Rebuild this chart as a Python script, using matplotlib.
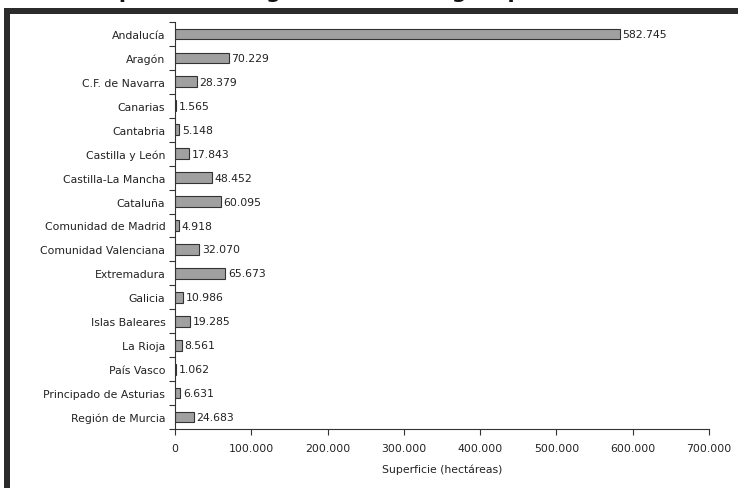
import matplotlib
matplotlib.use("Agg")
import matplotlib.pyplot as plt
import matplotlib.patches as mpatches
import numpy as np

# Superficie por comunidad autónoma (hectáreas)
comunidades = [
    "Andalucía", "Aragón", "C.F. de Navarra", "Canarias", "Cantabria",
    "Castilla y León", "Castilla-La Mancha", "Cataluña", "Comunidad de Madrid",
    "Comunidad Valenciana", "Extremadura", "Galicia", "Islas Baleares",
    "La Rioja", "País Vasco", "Principado de Asturias", "Región de Murcia",
]
superficie = [
    582745, 70229, 28379, 1565, 5148, 17843, 48452, 60095, 4918,
    32070, 65673, 10986, 19285, 8561, 1062, 6631, 24683,
]
xticks = [0, 100000, 200000, 300000, 400000, 500000, 600000, 700000]
titulo = "Superficie de agricultura ecológica por comunidades autónomas (hectáreas)"


def miles(v):
    return f"{v:,}".replace(",", ".")


plt.rcParams["font.family"] = ["DejaVu Sans"]

W, H = 738, 489
fig = plt.figure(figsize=(W / 100, H / 100), dpi=100)
fig.patch.set_facecolor("white")

# marco negro (parte superior e izquierda de la captura)
fig.add_artist(mpatches.Rectangle((4 / W, 0), 6 / W, 1 - 9 / H,
                                  transform=fig.transFigure, color="#2b2b2b", lw=0))
fig.add_artist(mpatches.Rectangle((4 / W, 1 - 15 / H), 1, 6 / H,
                                  transform=fig.transFigure, color="#2b2b2b", lw=0))
# título cortado por arriba: solo asoman los trazos inferiores
fig.text(0.12, 1 + 2.5 / H, titulo, fontsize=15, fontweight="bold",
         va="baseline", ha="left", color="#111111")

ax = fig.add_axes([175 / W, 1 - 430 / H, 534 / W, 407 / H])

y = np.arange(len(comunidades))
ax.barh(y, superficie, height=0.45, color="#a0a0a0", edgecolor="#333333", linewidth=0.8)

for yi, v in zip(y, superficie):
    ax.annotate(miles(v), (v, yi), xytext=(2, 0), textcoords="offset points",
                va="center", ha="left", fontsize=7.8, color="#222222")

ax.set_ylim(len(comunidades) - 0.5, -0.5)
ax.set_xlim(0, 700000)

ax.set_yticks(y)
ax.set_yticklabels(comunidades)
ax.set_yticks(np.arange(-0.5, len(comunidades), 1), minor=True)
ax.tick_params(axis="y", which="major", length=0, pad=7, labelsize=7.8, labelcolor="#222222")
ax.tick_params(axis="y", which="minor", length=4, width=0.8, color="#333333")

ax.set_xticks(xticks)
ax.set_xticklabels([miles(t) for t in xticks])
ax.tick_params(axis="x", length=4, width=0.8, color="#333333", pad=6,
               labelsize=7.8, labelcolor="#222222")
ax.set_xlabel("Superficie (hectáreas)", fontsize=7.8, color="#222222", labelpad=8)

for s in ["top", "right"]:
    ax.spines[s].set_visible(False)
for s in ["left", "bottom"]:
    ax.spines[s].set_color("#333333")
    ax.spines[s].set_linewidth(0.8)

fig.savefig("out.png", dpi=100)
